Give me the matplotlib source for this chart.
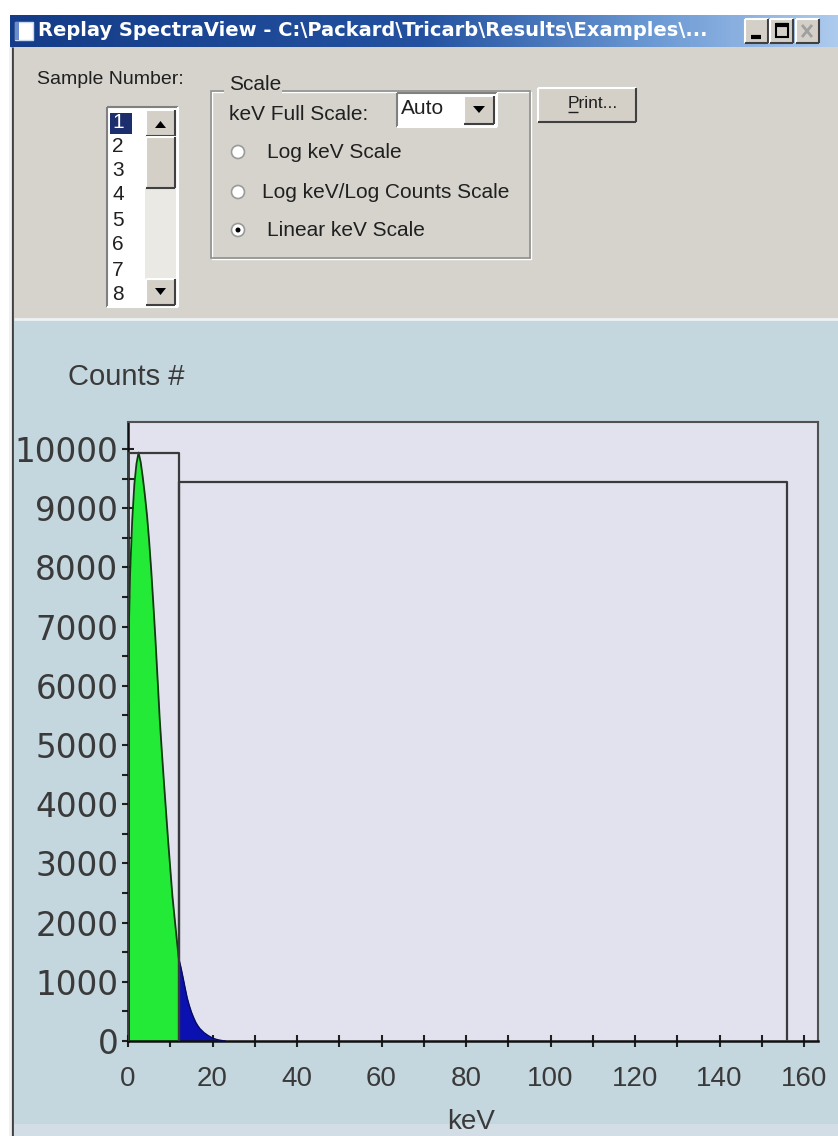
import numpy as np
import matplotlib
matplotlib.use("Agg")
import matplotlib.pyplot as plt
from matplotlib.patches import Rectangle, Circle, Polygon
from matplotlib.colors import LinearSegmentedColormap

# ---------------- data ----------------
green_kev = [0.0, 0.25, 0.5, 1.0, 1.5, 2.0, 2.5, 3.0, 3.5, 4.0, 4.5, 5.0, 5.5, 6.0,
             6.5, 7.0, 7.5, 8.0, 8.5, 9.0, 9.5, 10.0, 10.5, 11.0, 11.5, 12.0]
green_counts = [5700, 7100, 7900, 8800, 9400, 9750, 9940, 9780, 9520, 9220, 8880, 8450,
                7950, 7380, 6780, 6120, 5450, 4900, 4380, 3880, 3380, 2920, 2460, 2100,
                1750, 1400]
blue_kev = [12.0, 12.5, 13.0, 13.5, 14.0, 14.5, 15.0, 15.5, 16.0, 16.5, 17.0, 18.0,
            19.0, 20.0, 21.0, 22.0, 23.0]
blue_counts = [1400, 1250, 1080, 900, 730, 600, 490, 400, 320, 260, 210, 140, 90, 50,
               25, 10, 0]
region_starts = [0, 12]
region_ends = [12, 156]
region_heights = [9940, 9440]
x_ticks = [0, 20, 40, 60, 80, 100, 120, 140, 160]
y_ticks = [0, 1000, 2000, 3000, 4000, 5000, 6000, 7000, 8000, 9000, 10000]
sample_numbers = ["1", "2", "3", "4", "5", "6", "7", "8"]
radio_labels = ["Log keV Scale", "Log keV/Log Counts Scale", "Linear keV Scale"]
title_text = r"Replay SpectraView - C:\Packard\Tricarb\Results\Examples\..."

W, H = 838, 1136
UI = ["Liberation Sans", "DejaVu Sans"]
fig = plt.figure(figsize=(W / 100, H / 100), dpi=100)
fig.patch.set_facecolor("white")

# background axes in pixel coordinates
bg = fig.add_axes([0, 0, 1, 1])
bg.set_xlim(0, W)
bg.set_ylim(H, 0)
bg.axis("off")

def rect(x0, y0, x1, y1, fc="none", ec="none", lw=1.0, z=1):
    bg.add_patch(Rectangle((x0, y0), x1 - x0, y1 - y0, fc=fc, ec=ec, lw=lw, zorder=z))

def line(xs, ys, c, lw=1.0, z=3):
    bg.plot(xs, ys, color=c, lw=lw, zorder=z, solid_capstyle="butt")

def bevel(x0, y0, x1, y1, raised=True, z=3):
    lt, dk = ("white", "#404040") if raised else ("#808080", "white")
    line([x0, x1], [y0, y0], lt, 1.5, z)
    line([x0, x0], [y0, y1], lt, 1.5, z)
    line([x0, x1], [y1, y1], dk, 1.5, z)
    line([x1, x1], [y0, y1], dk, 1.5, z)

def T(x, y, s, size, ha="left", va="center", color="#202020", **kw):
    bg.text(x, y, s, fontsize=size, ha=ha, va=va, color=color, family=UI, zorder=6, **kw)

# window body
GRAY = "#d5d3cc"
rect(10, 15, W, H, fc=GRAY, z=0)
# title bar gradient
cmap = LinearSegmentedColormap.from_list(
    "tb", [(0, "#143c88"), (0.5, "#2452a0"), (0.78, "#6c9ad4"), (1, "#aecbee")])
grad = np.linspace(0, 1, 256).reshape(1, -1)
bg.imshow(grad, cmap=cmap, extent=[10, W, 47, 15], aspect="auto", zorder=1)
rect(15, 22, 33, 40, fc="white", ec="#c8d8f0", z=2)
rect(15, 22, 19, 40, fc="#6a8ccc", z=2)
bg.text(38, 31, title_text, fontsize=14, fontweight="bold", color="white",
        family=["DejaVu Sans"], va="center", ha="left", zorder=6)
# caption buttons
for bx in (745, 770, 796):
    rect(bx, 19, bx + 23, 43, fc="#d4d0c8", z=2)
    bevel(bx, 19, bx + 23, 43, True)
line([751, 761], [37, 37], "black", 3)
rect(776, 24, 788, 37, ec="black", lw=1.5, z=4)
line([776, 788], [25, 25], "black", 3)
line([802, 812], [25, 37], "#a0a0a0", 2)
line([802, 812], [37, 25], "#a0a0a0", 2)

# left window border
line([12, 12], [47, H], "#404040", 2)
line([10, 10], [47, H], "#f0f0f0", 2)

# ----- controls area -----
T(37, 79, "Sample Number:", 14)
# listbox
rect(107, 107, 178, 307, fc="white", z=2)
bevel(107, 107, 178, 307, False)
rect(110, 113, 132, 134, fc="#1c2e6e", z=3)
ys_items = [123, 147, 171, 195, 220, 245, 270, 295]
for i, (s, yy) in enumerate(zip(sample_numbers, ys_items)):
    T(112, yy, s, 15, color="white" if i == 0 else "#202020")
# scrollbar
rect(145, 110, 176, 305, fc="#ebe9e4", z=3)
for (a, b) in [(110, 136), (137, 188), (279, 305)]:
    rect(146, a, 175, b, fc="#d4d0c8", z=4)
    bevel(146, a, 175, b, True, z=5)
bg.add_patch(Polygon([[155, 128], [166, 128], [160.5, 121]], closed=True, fc="black", zorder=6))
bg.add_patch(Polygon([[155, 288], [166, 288], [160.5, 295]], closed=True, fc="black", zorder=6))

# group box
rect(211, 91, 530, 258, ec="#909090", lw=1.2, z=2)
rect(212, 92, 531, 259, ec="white", lw=1.0, z=1)
rect(224, 78, 282, 96, fc=GRAY, z=3)
T(229, 85, "Scale", 15)
T(229, 114, "keV Full Scale:", 15)
# combo box
rect(397, 93, 497, 127, fc="white", z=2)
bevel(397, 93, 497, 127, False)
T(401, 109, "Auto", 15)
rect(464, 96, 494, 124, fc="#d4d0c8", z=4)
bevel(464, 96, 494, 124, True, z=5)
bg.add_patch(Polygon([[473, 106], [485, 106], [479, 113]], closed=True, fc="black", zorder=6))
# radio buttons
radio_y = [152, 192, 230]
radio_tx = [267, 262, 267]
for k, (lab, yy, tx) in enumerate(zip(radio_labels, radio_y, radio_tx)):
    bg.add_patch(Circle((238, yy), 6.5, fc="white", ec="#9a9a9a", lw=1.2, zorder=4))
    if k == 2:
        bg.add_patch(Circle((238, yy), 2.5, fc="black", zorder=5))
    T(tx, yy, lab, 15)
# print button
rect(538, 88, 636, 122, fc="#d4d0c8", z=2)
bevel(538, 88, 636, 122, True)
T(568, 103, "Print...", 12.5)
line([568, 578], [111.5, 111.5], "#202020", 1)

# ----- plot panel -----
rect(14, 320, W, H, fc="#c4d6de", z=1)
line([14, W], [319, 319], "#eef2f4", 2)
rect(14, 1124, W, H, fc="#d3dde6", z=1)
T(68, 377, "Counts #", 21, color="#3a3a3a")
T(471, 1122, "keV", 20, ha="center", color="#3a3a3a")

# plot axes
xpx0, xpx1, ypx0, ypx1 = 128, 818, 1041, 422
ax = fig.add_axes([xpx0 / W, (H - ypx0) / H, (xpx1 - xpx0) / W, (ypx0 - ypx1) / H])
ax.set_facecolor("#e2e2ee")
ax.set_xlim(0, (xpx1 - xpx0) / 4.225)
ax.set_ylim(0, (ypx0 - ypx1) / 0.0592)

ax.fill_between(green_kev, green_counts, 0, color="#22ea36", lw=0, zorder=2)
ax.plot(green_kev, green_counts, color="#123a12", lw=1.3, zorder=3)
ax.plot([0, 0], [0, green_counts[0]], color="#123a12", lw=2, zorder=3)
ax.fill_between(blue_kev, blue_counts, 0, color="#0b10b0", lw=0, zorder=2)
ax.plot(blue_kev, blue_counts, color="#060a60", lw=1.0, zorder=3)

for s, e, h in zip(region_starts, region_ends, region_heights):
    ax.plot([s, s, e, e], [0, h, h, 0], color="#3a3a3a", lw=1.6, zorder=4)

ax.set_xticks(x_ticks)
ax.set_xticks(np.arange(10, 160, 20), minor=True)
ax.set_yticks(y_ticks)
ax.set_yticks(np.arange(500, 10500, 1000), minor=True)
ax.tick_params(axis="both", which="both", direction="inout", length=8, width=1.5,
               color="#202020", labelcolor="#3a3a3a")
ax.tick_params(axis="x", pad=14, labelsize=20)
ax.tick_params(axis="y", pad=3, labelsize=23.5)
for lab in ax.get_xticklabels():
    lab.set_family(UI)
for lab in ax.get_yticklabels():
    lab.set_family(["DejaVu Sans"])
for side in ("left", "bottom"):
    ax.spines[side].set_color("#101010")
    ax.spines[side].set_linewidth(1.8)
for side in ("top", "right"):
    ax.spines[side].set_color("#505050")
    ax.spines[side].set_linewidth(1.5)

fig.savefig("out.png", dpi=100)
